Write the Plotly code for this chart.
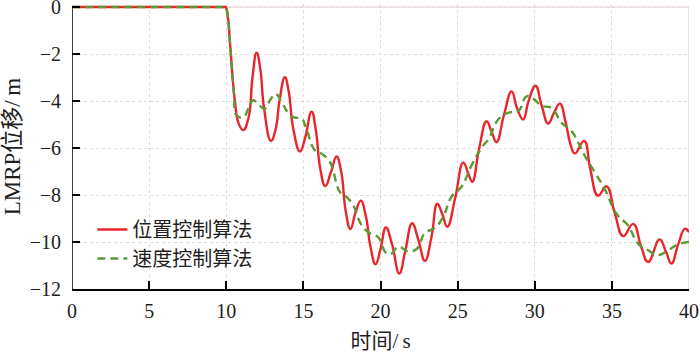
import plotly.graph_objects as go

# Data
pos_t = [0, 9.0, 9.8, 9.95, 10.1, 10.24, 10.56, 10.8, 11.1, 11.45, 11.7, 11.97, 12.2, 12.45, 12.9,
         13.2, 13.45, 13.8, 14.05, 14.35, 14.78, 15.1, 15.53, 15.8, 16.1, 16.42, 16.8,
         17.15, 17.45, 17.75, 18.05, 18.4, 18.72, 19.05, 19.35, 19.68, 20.0, 20.35,
         20.75, 21.22, 21.6, 22.05, 22.45, 22.88, 23.3, 23.68, 24.0, 24.33, 24.85,
         25.36, 25.7, 25.95, 26.4, 26.87, 27.2, 27.52, 28.0, 28.5, 28.85, 29.25, 29.6,
         30.05, 30.45, 30.87, 31.25, 31.63, 32.0, 32.3, 32.6, 33.2, 33.6, 34.1, 34.65,
         35.2, 35.73, 36.38, 36.9, 37.35, 38.1, 38.5, 38.86, 39.3, 39.73, 40.0]
pos_y = [0, 0, 0, 0, -0.4, -1.5, -4.0, -4.95, -5.24, -4.7, -3.0, -1.94, -2.6, -4.3, -5.7,
         -5.2, -4.0, -2.99, -3.6, -5.2, -6.15, -5.6, -4.45, -5.2, -6.9, -7.62, -7.0,
         -6.36, -7.0, -8.7, -9.45, -8.7, -8.24, -8.9, -10.2, -10.95, -10.3, -9.38,
         -10.1, -11.34, -10.4, -9.2, -9.9, -10.8, -9.8, -8.37, -8.8, -9.35, -8.1,
         -6.62, -7.1, -7.44, -6.0, -4.86, -5.3, -5.75, -4.6, -3.59, -4.3, -4.79, -4.0,
         -3.35, -4.2, -4.96, -4.5, -4.11, -4.9, -5.8, -6.23, -5.7, -6.9, -8.03, -7.63,
         -8.8, -9.75, -9.23, -10.2, -10.85, -9.89, -10.4, -10.92, -10.1, -9.44, -9.58]

vel_t = [0, 9.0, 9.8, 9.95, 10.1, 10.24, 10.5, 10.67, 11.1, 11.45, 11.75, 12.1, 12.5, 12.85, 13.2,
         13.6, 14.0, 14.4, 14.88, 15.2, 15.75, 16.2, 16.72, 17.37, 17.8, 18.23, 18.77,
         19.31, 19.85, 20.35, 20.7, 21.15, 21.8, 22.34, 22.88, 23.52, 24.07, 24.6,
         25.25, 25.9, 26.65, 27.0, 27.63, 28.28, 28.92, 29.47, 29.9, 30.44, 31.09,
         31.74, 32.27, 32.6, 33.25, 33.9, 34.54, 35.3, 36.05, 36.7, 37.35, 38.0,
         38.65, 39.3, 40.0]
vel_y = [0, 0, 0, 0, -0.4, -1.5, -3.7, -4.6, -4.7, -4.3, -3.97, -4.15, -4.33, -3.95, -3.7,
         -4.05, -4.5, -4.7, -4.75, -5.2, -6.1, -6.25, -6.6, -7.87, -8.08, -8.44, -9.28,
         -9.63, -9.8, -10.45, -10.5, -10.2, -10.4, -10.3, -9.62, -9.4, -8.92, -8.08,
         -7.65, -6.74, -5.9, -5.63, -4.79, -4.5, -4.44, -3.8, -3.9, -4.2, -4.3,
         -4.93, -5.2, -5.49, -6.34, -7.04, -7.75, -8.8, -9.3, -10.07, -10.35, -10.56,
         -10.35, -10.1, -10.0]

x_ticks = [0, 5, 10, 15, 20, 25, 30, 35, 40]
y_ticks = [0, -2, -4, -6, -8, -10, -12]

FONT = "'Liberation Serif', 'Times New Roman', 'Noto Sans CJK SC', serif"
TXT = "#1e1e1e"

fig = go.Figure()
fig.add_trace(go.Scatter(x=pos_t, y=pos_y, mode="lines", name="位置控制算法",
                         line=dict(color="#e8262b", width=2.4, shape="spline", smoothing=1.3)))
fig.add_trace(go.Scatter(x=vel_t, y=vel_y, mode="lines", name="速度控制算法",
                         line=dict(color="#5b9a34", width=2.4, dash="8px,5px",
                                   shape="spline", smoothing=1.3)))

axis_common = dict(
    showgrid=True, gridcolor="#e6d8d8", griddash="dot", gridwidth=1,
    zeroline=False, automargin=False, ticklabeloverflow="allow",
    ticks="inside", ticklen=8, tickwidth=1.5, tickcolor="black",
    tickfont=dict(family=FONT, size=20, color=TXT),
)

fig.update_xaxes(range=[0, 40], tickvals=x_ticks, showline=True, linecolor="black",
                 linewidth=1.5, ticklabelstandoff=3,
                 title=dict(text="时间/\u2009s", standoff=15,
                            font=dict(family=FONT, size=21, color=TXT)),
                 **axis_common)
fig.update_yaxes(range=[-12, 3 / 23.5], tickvals=y_ticks, showline=False,
                 ticklabelstandoff=10,
                 title=dict(text="LMRP位移/\u2009m", standoff=10,
                            font=dict(family=FONT, size=23, color=TXT)),
                 **axis_common)

# frame: light top/right border, black left axis line
fig.add_shape(type="line", xref="x", yref="y", x0=0, x1=40, y0=0, y1=0,
              line=dict(color="#d8cccc", width=1.2), layer="below")
fig.add_shape(type="line", xref="x", yref="y", x0=40, x1=40, y0=-12, y1=0,
              line=dict(color="#d8cccc", width=1.2), layer="below")
fig.add_shape(type="line", xref="x", yref="y", x0=0, x1=0, y0=-12, y1=0,
              line=dict(color="black", width=1.5), layer="below")

fig.update_layout(
    width=700, height=353,
    margin=dict(l=72, r=11, t=4, b=64),
    paper_bgcolor="white", plot_bgcolor="white",
    font=dict(family=FONT, size=20, color=TXT),
    legend=dict(x=0.033, y=0.158, xanchor="left", yanchor="middle",
                bgcolor="rgba(0,0,0,0)", borderwidth=0,
                font=dict(family=FONT, size=20, color=TXT),
                itemwidth=30, tracegroupgap=0),
    showlegend=True,
)

fig.write_html("out.html", config={"displayModeBar": False},
               post_script="document.body.style.margin='0px';document.body.style.overflow='hidden';")
